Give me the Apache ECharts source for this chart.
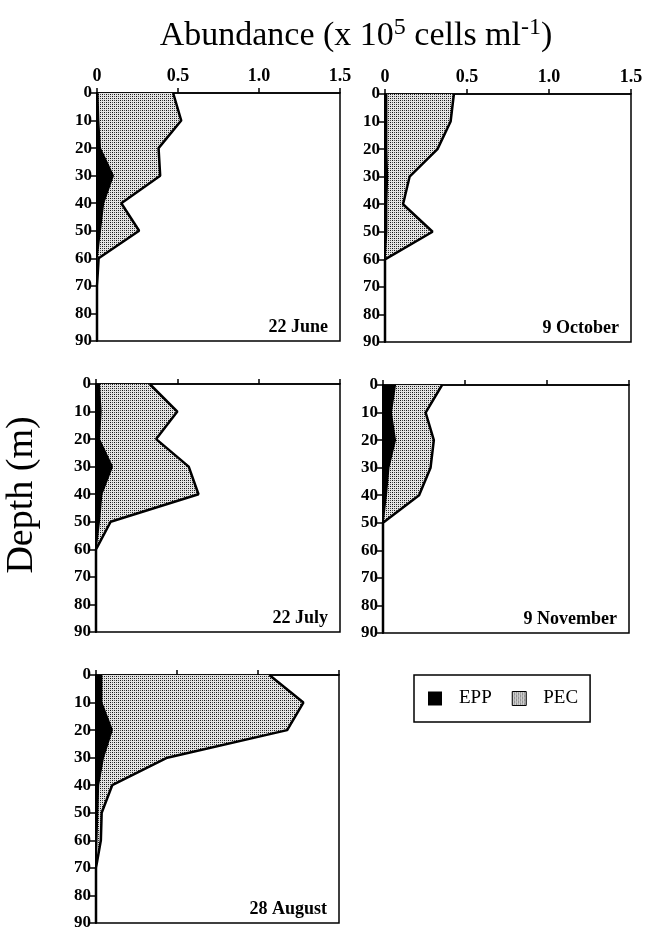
<!DOCTYPE html>
<html>
<head>
<meta charset="utf-8">
<script src="https://cdn.jsdelivr.net/npm/echarts@6/dist/echarts.min.js"></script>
<style>html,body{margin:0;padding:0;background:#fff;}#c{width:646px;height:933px;}</style>
</head>
<body>
<div id="c"></div>
<script>
// ---- data ----
var depths = ['0','10','20','30','40','50','60','70','80','90'];
var xTicks = [0, 0.5, 1.0, 1.5];
var panelNames = ['22 June', '9 October', '22 July', '9 November', '28 August'];
var pecJune     = [0.47, 0.52, 0.38, 0.39, 0.15, 0.26, 0.01, 0, 0, 0];
var eppJune     = [0.005, 0.01, 0.02, 0.10, 0.04, 0.02, 0, 0, 0, 0];
var pecOctober  = [0.42, 0.40, 0.32, 0.15, 0.11, 0.29, 0, 0, 0, 0];
var eppOctober  = [0.01, 0.01, 0.01, 0.015, 0.01, 0.01, 0, 0, 0, 0];
var pecJuly     = [0.33, 0.50, 0.37, 0.57, 0.63, 0.09, 0, 0, 0, 0];
var eppJuly     = [0.02, 0.03, 0.02, 0.10, 0.035, 0.02, 0, 0, 0, 0];
var pecNovember = [0.36, 0.26, 0.31, 0.29, 0.22, 0, 0, 0, 0, 0];
var eppNovember = [0.075, 0.05, 0.075, 0.035, 0.02, 0, 0, 0, 0, 0];
var pecAugust   = [1.07, 1.28, 1.18, 0.44, 0.10, 0.035, 0.03, 0, 0, 0];
var eppAugust   = [0.035, 0.035, 0.10, 0.045, 0.015, 0.01, 0.005, 0, 0, 0];

var pecData = [pecJune, pecOctober, pecJuly, pecNovember, pecAugust];
var eppData = [eppJune, eppOctober, eppJuly, eppNovember, eppAugust];

// ---- layout ----
var FONT = '"Liberation Serif", "Times New Roman", serif';
var grids = [
  {left: 97, top: 93, width: 243, height: 248},
  {left: 385, top: 94, width: 246, height: 248},
  {left: 96, top: 384, width: 244, height: 248},
  {left: 383, top: 385, width: 246, height: 248},
  {left: 96, top: 675, width: 243, height: 248}
];

// stipple pattern
var pc = document.createElement('canvas');
pc.width = 4; pc.height = 4;
var g = pc.getContext('2d');
g.fillStyle = '#e4e4e4'; g.fillRect(0, 0, 4, 4);
g.fillStyle = '#111';
g.fillRect(0, 0, 1, 1); g.fillRect(2, 2, 1, 1);
g.fillStyle = '#4a4a4a';
g.fillRect(2, 0, 1, 1); g.fillRect(0, 2, 1, 1);
var pattern = {image: pc, repeat: 'repeat'};

var option = {
  animation: false,
  backgroundColor: '#fff',
  grid: [], xAxis: [], yAxis: [], series: [], title: [],
  legend: {
    left: 414, top: 675,
    orient: 'horizontal',
    borderColor: '#000', borderWidth: 1.5,
    padding: [14, 12, 14, 14],
    itemWidth: 14, itemHeight: 14, itemGap: 20,
    icon: 'rect',
    selectedMode: false,
    textStyle: {fontFamily: FONT, fontSize: 19, color: '#000', padding: [0, 0, 0, 12]},
    data: [
      {name: 'EPP', itemStyle: {color: '#000'}},
      {name: 'PEC', itemStyle: {color: pattern, borderColor: '#000', borderWidth: 1}}
    ]
  },
  graphic: [
    {
      type: 'text', x: 356, y: 36,
      style: {
        text: '{n|Abundance (x 10}{s|5}{n| cells ml}{s|-1}{n|)}',
        align: 'center', verticalAlign: 'middle',
        rich: {
          n: {fontFamily: FONT, fontSize: 34, lineHeight: 40, fill: '#000'},
          s: {fontFamily: FONT, fontSize: 24, lineHeight: 24, verticalAlign: 'top', fill: '#000'}
        }
      }
    },
    {
      type: 'text', x: 22, y: 495, rotation: Math.PI / 2,
      style: {text: 'Depth (m)', fontFamily: FONT, fontSize: 38, fill: '#000',
              align: 'center', verticalAlign: 'middle'}
    }
  ]
};

for (var i = 0; i < 5; i++) {
  var gr = grids[i];
  option.grid.push({left: gr.left, top: gr.top, width: gr.width, height: gr.height,
    show: true, borderColor: '#000', borderWidth: 1.5, backgroundColor: 'transparent'});
  option.xAxis.push({
    type: 'value', gridIndex: i, position: 'top',
    min: xTicks[0], max: xTicks[xTicks.length - 1], interval: xTicks[1] - xTicks[0],
    axisLine: {show: true, lineStyle: {color: '#000', width: 1.5}},
    axisTick: {show: true, inside: false, length: 5, lineStyle: {color: '#000', width: 1.5}},
    splitLine: {show: false},
    axisLabel: {show: i < 2, margin: 8, color: '#000', fontFamily: FONT, fontWeight: 'bold', fontSize: 18,
      formatter: function (v) { return v === 0 ? '0' : v.toFixed(1); }}
  });
  option.yAxis.push({
    type: 'category', gridIndex: i, data: depths, inverse: true, boundaryGap: false,
    axisLine: {show: true, onZero: false, lineStyle: {color: '#000', width: 2}},
    axisTick: {show: true, inside: false, length: 6, lineStyle: {color: '#000', width: 1.5}},
    splitLine: {show: false},
    axisLabel: {show: true, margin: 5, color: '#000', fontFamily: FONT, fontWeight: 'bold', fontSize: 17}
  });
  option.series.push({
    name: 'PEC', type: 'line', xAxisIndex: i, yAxisIndex: i,
    data: pecData[i], symbol: 'none', z: 2,
    itemStyle: {color: pattern},
    lineStyle: {color: '#000', width: 2.5},
    areaStyle: {color: pattern, opacity: 1}
  });
  option.series.push({
    name: 'EPP', type: 'line', xAxisIndex: i, yAxisIndex: i,
    data: eppData[i], symbol: 'none', z: 3,
    itemStyle: {color: '#000'},
    lineStyle: {color: '#000', width: 1.5},
    areaStyle: {color: '#000', opacity: 1}
  });
  option.title.push({
    text: panelNames[i],
    right: 646 - (gr.left + gr.width) + 7,
    top: gr.top + gr.height - 28,
    textStyle: {fontFamily: FONT, fontWeight: 'bold', fontSize: 18, color: '#000'}
  });
}

var chart = echarts.init(document.getElementById('c'), null, {renderer: 'canvas'});
chart.setOption(option);
</script>
</body>
</html>
